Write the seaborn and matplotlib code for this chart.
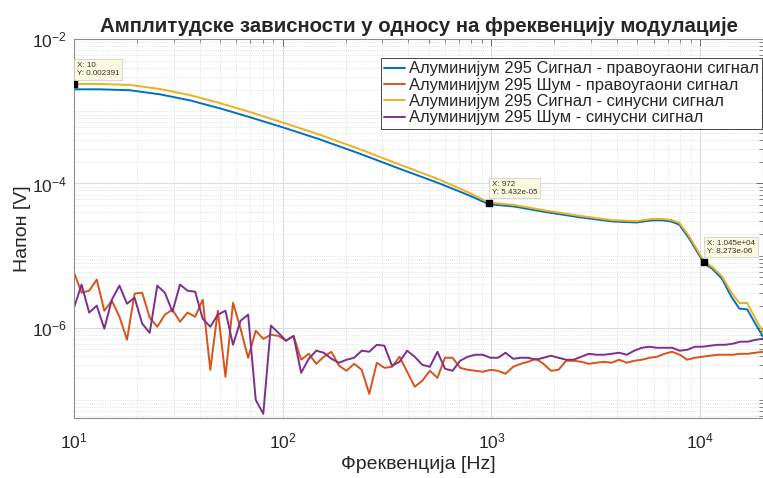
import numpy as np
import matplotlib
matplotlib.use("Agg")
import matplotlib.pyplot as plt
import matplotlib.ticker as mticker
import seaborn as sns

# frequency grid of the signal curves [Hz]
sig_freq = [10, 13.3, 18.5, 25.8, 35.9, 50, 69.5, 100, 150, 233, 363, 564, 785, 972,
            1280, 1830, 2640, 3790, 4940, 5890, 6580, 7260, 7940, 8860, 10450, 11400,
            12700, 14100, 15400, 16800, 18500, 20000]
# signal amplitudes [mV]
sig_rect_mv = [2.02, 2.02, 1.96, 1.72, 1.42, 1.10, 0.83, 0.60, 0.41, 0.26, 0.16, 0.10, 0.068,
               0.0515, 0.048, 0.040, 0.034, 0.0297, 0.0288, 0.0308, 0.0308, 0.0297, 0.0269,
               0.0172, 0.0078, 0.0066, 0.0048, 0.0027, 0.00184, 0.0018, 0.0011, 0.00075]
sig_sine_mv = [2.391, 2.39, 2.32, 2.04, 1.68, 1.30, 0.98, 0.70, 0.475, 0.30, 0.183, 0.113, 0.074,
               0.05432, 0.0505, 0.042, 0.0356, 0.031, 0.0300, 0.0322, 0.0322, 0.0312, 0.0285,
               0.0185, 0.008273, 0.0070, 0.0052, 0.0031, 0.0022, 0.0022, 0.0013, 0.00087]

# frequency grid of the noise curves [Hz]
noise_freq = [10.0, 10.87, 11.82, 12.85, 13.97, 15.18, 16.51, 17.94, 19.51, 21.21,
              23.05, 25.06, 27.25, 29.62, 32.20, 35.00, 38.05, 41.37, 44.97, 48.89,
              53.15, 57.78, 62.81, 68.28, 74.23, 80.70, 87.73, 95.37, 103.7, 112.7,
              122.5, 133.2, 144.8, 157.4, 171.1, 186.0, 202.2, 219.8, 239.0, 259.8,
              282.4, 307.0, 333.8, 362.8, 394.5, 428.8, 466.2, 506.8, 550.9, 598.9,
              651.1, 707.8, 769.5, 836.5, 909.4, 988.6, 1074.7, 1168.4, 1270.1, 1380.8,
              1501.1, 1631.9, 1774.0, 1928.6, 2096.6, 2279.3, 2477.8, 2693.7, 2928.4, 3183.5,
              3460.8, 3762.3, 4090.1, 4446.4, 4833.8, 5254.9, 5712.7, 6210.4, 6751.4, 7339.5,
              7978.9, 8674.0, 9429.6, 10251, 11144, 12115, 13170, 14318, 15565, 16921,
              18395, 20000]
# noise amplitudes [uV]
noise_rect_uv = [5.81, 3.06, 3.26, 4.64, 1.72, 2.37, 1.42, 0.68, 2.97, 3.06,
                 1.38, 1.03, 1.52, 1.78, 1.21, 1.62, 1.42, 2.45, 0.261, 1.72,
                 0.209, 2.22, 0.97, 0.383, 0.91, 0.70, 0.80, 0.77, 0.66, 0.77,
                 0.36, 0.435, 0.316, 0.396, 0.464, 0.297, 0.253, 0.316, 0.261, 0.121,
                 0.327, 0.278, 0.287, 0.396, 0.245, 0.152, 0.184, 0.253, 0.202, 0.383,
                 0.383, 0.278, 0.261, 0.253, 0.245, 0.261, 0.253, 0.230, 0.287, 0.316,
                 0.337, 0.371, 0.316, 0.253, 0.261, 0.348, 0.348, 0.337, 0.316, 0.327,
                 0.337, 0.327, 0.36, 0.327, 0.348, 0.36, 0.383, 0.396, 0.435, 0.464,
                 0.422, 0.36, 0.383, 0.396, 0.409, 0.422, 0.422, 0.422, 0.435, 0.435,
                 0.45, 0.464]
noise_sine_uv = [1.90, 3.96, 1.62, 2.02, 0.97, 2.45, 3.83, 2.15, 2.61, 1.14,
                 0.85, 3.83, 3.06, 1.67, 3.96, 3.26, 3.16, 1.33, 1.03, 1.52,
                 1.72, 0.58, 1.25, 1.52, 0.100, 0.064, 1.07, 0.85, 0.66, 0.77,
                 0.237, 0.371, 0.48, 0.45, 0.371, 0.327, 0.36, 0.383, 0.48, 0.464,
                 0.58, 0.562, 0.297, 0.337, 0.48, 0.396, 0.306, 0.287, 0.464, 0.270,
                 0.253, 0.348, 0.396, 0.422, 0.422, 0.383, 0.383, 0.45, 0.371, 0.383,
                 0.383, 0.36, 0.383, 0.409, 0.383, 0.36, 0.36, 0.396, 0.435, 0.422,
                 0.422, 0.435, 0.45, 0.422, 0.48, 0.527, 0.545, 0.527, 0.527, 0.527,
                 0.48, 0.495, 0.545, 0.545, 0.562, 0.58, 0.58, 0.60, 0.64, 0.64,
                 0.68, 0.70]

labels = ["Алуминијум 295 Сигнал - правоугаони сигнал",
          "Алуминијум 295 Шум - правоугаони сигнал",
          "Алуминијум 295 Сигнал - синусни сигнал",
          "Алуминијум 295 Шум - синусни сигнал"]
colors = ["#0072BD", "#D95319", "#EDB120", "#7E2F8E"]

# data tips (x, y)
tip_x = [10, 972, 10450]
tip_y = [0.002391, 5.432e-05, 8.273e-06]
tip_text = ["X: 10\nY: 0.002391", "X: 972\nY: 5.432e-05", "X: 1.045e+04\nY: 8.273e-06"]

sns.set_style("white")
plt.rcParams['font.family'] = ['Liberation Sans', 'DejaVu Sans']
plt.rcParams['mathtext.default'] = 'regular'

fig = plt.figure(figsize=(7.63, 4.78), dpi=100)
ax = fig.add_axes([0.097, 0.1255, 0.903, 0.7925])

sig_freq = np.array(sig_freq)
noise_freq = np.array(noise_freq)
series = [
    (sig_freq, np.array(sig_rect_mv) * 1e-3),
    (noise_freq, np.array(noise_rect_uv) * 1e-6),
    (sig_freq, np.array(sig_sine_mv) * 1e-3),
    (noise_freq, np.array(noise_sine_uv) * 1e-6),
]
for (fx, fy), lab, c in zip(series, labels, colors):
    sns.lineplot(x=fx, y=fy, ax=ax, color=c, label=lab, linewidth=1.4)

ax.set_xscale("log")
ax.set_yscale("log")
ax.set_xlim(10, 20000)
ax.set_ylim(5.6e-8, 1e-2)
ax.set_yticks([1e-6, 1e-4, 1e-2])
ax.yaxis.set_minor_locator(mticker.LogLocator(base=10, subs=np.arange(1, 10), numticks=20))
ax.yaxis.set_minor_formatter(mticker.NullFormatter())
ax.xaxis.set_minor_locator(mticker.LogLocator(base=10, subs=np.arange(2, 10), numticks=20))
ax.xaxis.set_minor_formatter(mticker.NullFormatter())

ax.grid(which="major", color="#d6d6d6", linewidth=0.6, linestyle="-")
ax.grid(which="minor", color="#d9d9d9", linewidth=0.6, linestyle=":")
ax.set_axisbelow(True)
ax.tick_params(which="both", direction="in", top=True, right=True, colors="#262626",
               labelsize=12.5)
ax.tick_params(which="major", length=5, width=0.6, color="#555555")
ax.tick_params(which="minor", length=3, width=0.5, color="#555555")
ax.tick_params(axis="x", which="major", pad=10)
ax.tick_params(axis="y", which="major", pad=5)
for sp in ax.spines.values():
    sp.set_color("#8c8c8c")
    sp.set_linewidth(0.8)

ax.set_xlabel("Фреквенција [Hz]", fontsize=14, color="#262626", labelpad=3)
ax.set_ylabel("Напон [V]", fontsize=14, color="#262626", labelpad=1)
ax.set_title("Амплитудске зависности у односу на фреквенцију модулације",
             fontsize=14.7, fontweight="bold", pad=5)

# data tips
ax.scatter(tip_x, tip_y, marker="s", s=16, color="black", zorder=5)
for tx, ty, tt in zip(tip_x, tip_y, tip_text):
    ax.annotate(tt, xy=(tx, ty), xytext=(3, 7), textcoords="offset pixels",
                fontsize=5.8, ha="left", va="bottom", color="#333333",
                bbox=dict(boxstyle="square,pad=0.35", fc="#fbf9de", ec="#c8c8c8", lw=0.5),
                zorder=6)

leg = ax.legend(loc="upper right", bbox_to_anchor=(0.9985, 0.95), fontsize=11.9,
                frameon=True, fancybox=False, edgecolor="#262626", framealpha=1,
                handlelength=1.3, handletextpad=0.2, borderpad=0.2, labelspacing=0.08,
                borderaxespad=0)
leg.get_frame().set_linewidth(0.6)

fig.savefig("out.png", dpi=100)
